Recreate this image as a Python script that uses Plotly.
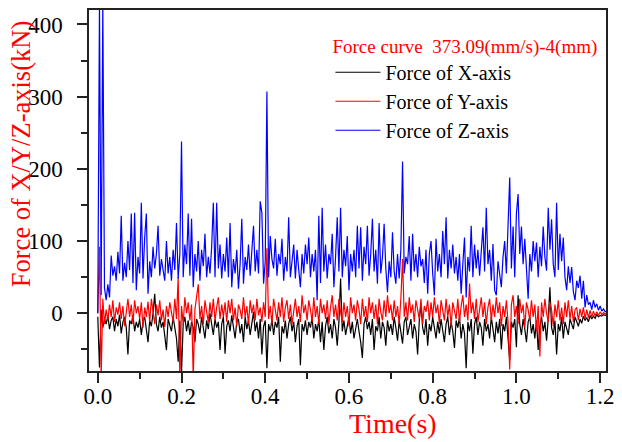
import plotly.graph_objects as go

# Sampling interval of the recorded force signal (s)
DT = 0.004

force_x = [
    -5, -75, 5, -20, -8, -15, -3, -22, -10, -5, -25, -8, -18, -2, -28, -12, -5, -20, -57, -10, -15, -3, -25, -12, -20,
    -8, -30, -12, -5, -22, -40, -10, -18, 0, 27, -15, -25, -5, -20, -12, -30, -51, -8, -15, -25, -5, -18, -35, -67, -10,
    -82, -15, -5, -25, -10, -30, -12, -20, -40, -8, -15, -28, -5, -18, -35, -10, -22, 0, -15, -30, -8, -20, -12, -51, -15,
    -5, -56, -18, -10, -25, -3, -20, -35, -12, -8, -28, -15, -40, -5, -22, -10, -30, -15, 2, -25, -12, -35, -8, -57, -18,
    -10, -76, -15, -25, -8, -30, -12, -20, -5, -67, -18, -28, -10, -35, -15, -5, -25, -12, -40, -18, -8, -72, -15, -25, -10,
    -30, -12, -20, -5, -35, -15, -25, -8, -40, -12, -51, -18, -5, -28, -15, -35, -8, -20, -45, -12, 48, -25, -10, -30, -15,
    -5, -28, -12, -35, -18, -8, -25, -40, -62, -15, -5, -22, -12, -30, -8, -51, -18, -25, -5, -35, -12, -20, -45, -10, -25,
    -15, -30, -5, -20, -38, -10, -25, -42, -12, -5, -30, -18, -8, -35, -15, -25, -57, -10, 13, -20, -30, -8, -45, -15, -25,
    -5, -18, -35, -12, -28, -8, -22, -40, -15, -5, -30, -12, -25, -48, -10, -20, -5, -35, -15, -28, -76, -12, -25, -8, -56,
    -15, -5, -30, -12, -20, -45, -8, -25, -15, -35, -5, -22, -40, -12, -28, -8, -50, -15, -25, -5, -30, -65, -12, -20, -8,
    -47, 25, -15, -30, -8, -22, -40, -12, -5, -28, -15, -35, -10, -51, -18, -5, -25, -12, -38, -8, 36, -20, -30, -10, -57,
    -15, -25, -5, -35, -12, -20, -30, -8, -15, -22, -5, -12, -18, -8, -14, -4, -10, -6, -12, -3, -8, -4, -7, -2, -5,
    -3, -4, -2, -3, -2, -3,
]

force_y = [
    0, 92, -90, 20, -15, 5, -10, 12, -5, 18, -12, 8, -2, 15, -8, 10, -18, 5, 20, -5, 12, -15, 18, 0, 10,
    -8, 15, -20, 8, -5, 16, -12, 20, 2, -15, 12, -3, 18, -10, 5, -19, 10, -5, 15, 0, -12, 20, -8, 50, -90,
    10, -15, 22, 0, 15, -10, 12, -90, 5, 20, 40, -8, 10, -15, 18, 2, -12, 15, -5, 20, -10, 8, 22, -8, 12,
    -5, 15, -12, 18, 0, 20, -10, 8, -18, 12, 5, -8, 22, -5, 10, -15, 18, 0, 12, -10, 20, -3, 8, -12, 15,
    -5, 90, -8, 10, -15, 20, 2, -10, 15, -5, 22, -12, 8, 18, -8, 12, -15, 5, 20, -5, 10, -12, 25, 0, 12,
    -10, 18, 5, -12, 22, -5, 10, -15, 20, 0, 12, -8, 18, -15, 8, 25, -5, 12, -10, 20, 2, -12, 15, -5, 10,
    -18, 22, 0, 12, -10, 18, 5, -15, 20, -5, 10, -12, 22, 0, 15, -8, 12, -15, 20, 2, -10, 18, -5, 25, 0,
    12, -10, 18, -5, 10, -15, 20, 75, -5, 15, -10, 22, 0, 12, -12, 18, 5, -8, 20, -15, 10, 2, 18, -10, 15,
    -5, 22, 0, 12, -15, 18, 5, -10, 20, -5, 12, -18, 15, 2, -8, 20, -12, 10, 25, -5, 12, -10, 41, 0, 15,
    -8, 20, -12, 10, 22, -5, 15, -15, 8, 20, -10, 12, -5, 22, 0, 15, -18, 10, -5, 18, -12, -78, 12, 25, -5,
    10, -15, 20, 0, 12, -20, 15, 5, -10, 18, -5, 12, -25, 10, -60, 15, -5, 20, 0, -12, 15, 5, -18, 12, -5,
    18, -10, 8, -15, 15, -5, 18, -8, 10, -12, 5, 8, -10, 6, -5, 8, -8, 5, -6, 4, -5, 3, -4, 2, -3,
    2, -2, 1, -1, 1, 0,
]

force_z = [
    0, 430, 25, 430, 35, 18, 40, 22, 80, 52, 65, 45, 85, 55, 135, 45, 70, 50, 100, 60, 138, 42, 139, 32, 78,
    55, 153, 48, 105, 138, 27, 72, 50, 92, 62, 82, 121, 52, 75, 58, 45, 100, 55, 78, 45, 88, 60, 125, 48, 82,
    238, 50, 95, 68, 138, 52, 131, 36, 82, 58, 100, 45, 88, 65, 110, 50, 78, 55, 92, 153, 50, 153, 62, 95, 48,
    82, 58, 105, 50, 125, 36, 75, 55, 88, 34, 68, 131, 41, 78, 60, 95, 52, 82, 121, 58, 88, 55, 155, 139, 41,
    72, 307, 50, 107, 75, 62, 103, 52, 82, 68, 103, 45, 78, 58, 133, 50, 72, 95, 48, 88, 60, 36, 82, 55, 95,
    68, 105, 50, 82, 58, 88, 18, 135, 42, 146, 58, 95, 48, 82, 68, 110, 36, 78, 133, 58, 146, 50, 88, 65, 107,
    32, 82, 58, 88, 50, 121, 62, 119, 45, 92, 68, 121, 52, 82, 131, 58, 88, 41, 125, 55, 78, 124, 62, 29, 72,
    50, 112, 58, 41, 82, 48, 88, 210, 55, 78, 68, 107, 45, 110, 58, 82, 50, 92, 65, 75, 42, 88, 27, 82, 100,
    55, 25, 103, 58, 82, 50, 114, 68, 133, 48, 88, 62, 95, 55, 78, 45, 82, 27, 68, 105, 22, 78, 58, 121, 50,
    95, 62, 88, 52, 82, 119, 58, 146, 68, 88, 45, 96, 32, 25, 72, 50, 36, 78, 100, 55, 130, 188, 62, 120, 50,
    138, 165, 82, 120, 68, 103, 50, 20, 82, 58, 100, 72, 98, 50, 92, 65, 120, 78, 59, 146, 88, 130, 68, 50, 153,
    60, 110, 72, 105, 50, 32, 65, 42, 64, 30, 18, 45, 35, 52, 20, 45, 8, 25, 12, 15, 5, 18, 8, 13, 4,
    10, 3, 6, 2, 3, 2,
]

time_s = [round(i * DT, 3) for i in range(len(force_z))]

legend_title = "Force curve\u00a0 373.09(mm/s)-4(mm)"
x_title = "Time(s)"
y_title = "Force of X/Y/Z-axis(kN)"
series = [
    ("Force of X-axis", force_x, "#000000"),
    ("Force of Y-axis", force_y, "#ff0000"),
    ("Force of Z-axis", force_z, "#0000ff"),
]

FONT = "Liberation Serif"

fig = go.Figure()
for name, vals, col in series:
    fig.add_trace(go.Scatter(x=time_s, y=vals, mode="lines", name=name,
                             line=dict(color=col, width=1.2)))

axis_common = dict(
    showline=True, linecolor="#222222", linewidth=1.5, mirror=True,
    ticks="outside", ticklen=10, tickwidth=1.5, tickcolor="#222222",
    showgrid=False, zeroline=False,
    tickfont=dict(family=FONT, size=23, color="#000000"),
)

fig.update_xaxes(
    range=[-0.021, 1.214], dtick=0.2, tick0=0, tickformat=".1f",
    minor=dict(ticks="outside", ticklen=6, tickwidth=1.5, tickcolor="#222222", dtick=0.1, tick0=0),
    ticklabelstandoff=-6,
    **axis_common,
)
fig.update_yaxes(
    range=[-80, 420], dtick=100, tick0=0,
    minor=dict(ticks="outside", ticklen=6, tickwidth=1.5, tickcolor="#222222", dtick=50, tick0=0),
    ticklabelstandoff=10,
    **axis_common,
)

fig.add_annotation(text=x_title, xref="paper", yref="paper", x=0.588, y=-0.195,
                   xanchor="center", yanchor="bottom", showarrow=False,
                   font=dict(family=FONT, size=28, color="#ff0000"))
fig.add_annotation(text=y_title, xref="paper", yref="paper", x=-0.13, y=0.6,
                   xanchor="center", yanchor="middle", showarrow=False, textangle=-90,
                   font=dict(family=FONT, size=26.5, color="#ff0000"))

fig.update_layout(
    width=622, height=442,
    margin=dict(l=89, r=8, t=8, b=71),
    paper_bgcolor="white", plot_bgcolor="white",
    showlegend=True,
    legend=dict(
        x=0.467, y=0.95, xanchor="left", yanchor="top",
        bgcolor="rgba(0,0,0,0)",
        font=dict(family=FONT, size=20, color="#000000"),
        title=dict(text=legend_title, font=dict(family=FONT, size=19, color="#ff0000")),
        tracegroupgap=0, itemwidth=45,
    ),
)

fig.write_html("out.html")
